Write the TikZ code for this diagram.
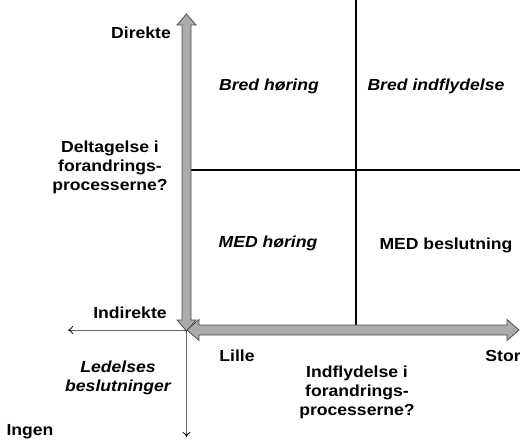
\documentclass[tikz,border=0pt]{standalone}
\usepackage{fontspec}
\setmainfont{Liberation Sans}[FakeStretch=1.1]
\usetikzlibrary{arrows.meta}
\tikzset{
  lbl/.style={font=\fontsize{16}{19}\selectfont\bfseries, align=center, inner sep=0pt},
  ilbl/.style={lbl, font=\fontsize{16}{19}\selectfont\bfseries\itshape},
  blockarrow/.style={draw=black!70, fill=black!33, line width=0.8pt, line join=miter},
  thinarrow/.style={draw=black!60, line width=0.8pt, -{To[length=5pt,width=8pt,color=black]}},
  quadline/.style={draw=black, line width=1.2pt}
}
\begin{document}
\begin{tikzpicture}[x=1pt, y=-1pt]
      \useasboundingbox (0,0) rectangle (520,444);
      %
      \coordinate (origo) at (186.5,330);
      \coordinate (venstre) at (68,330);
      \coordinate (ned) at (186.5,437);
      \draw[thinarrow] (origo) -- (venstre); % thin axes
      \draw[thinarrow] (origo) -- (ned);
      %
      \draw[quadline] (356,0) -- (356,330);   % quadrants
      \draw[quadline] (191,170) -- (520,170);
      %
      \draw[blockarrow] (186.5,14) -- (196,25) -- (191,25) -- (191,320) -- (196,320)
        -- (186.5,331) -- (177,320) -- (182,320) -- (182,25) -- (177,25) -- cycle; % vertical
      \draw[blockarrow] (187,330) -- (199,319.5) -- (199,325) -- (507,325) -- (507,319.5)
        -- (519,330) -- (507,340.5) -- (507,335) -- (199,335) -- (199,340.5) -- cycle; % horizontal
      %
      \node[lbl] (direkte) at (141,33) {Direkte};
      \node[lbl] (deltagelse) at (110,167) {Deltagelse i\\forandrings-\\processerne?};
      \node[lbl] (indirekte) at (130,313) {Indirekte};
      %
      \node[ilbl] (bredh) at (269,86) {Bred høring};          % top row
      \node[ilbl] (bredi) at (436,86) {Bred indflydelse};
      %
      \node[ilbl] (medh) at (268,243) {MED høring};           % bottom row
      \node[lbl] (medb) at (446,245) {MED beslutning};
      %
      \node[lbl] (lille) at (237,356) {Lille};
      \node[lbl] (indflydelse) at (357,392) {Indflydelse i\\forandrings-\\processerne?};
      \node[lbl] (stor) at (503,356) {Stor};
      %
      \node[ilbl] (ledelse) at (118,378) {Ledelses\\beslutninger};
      \node[lbl] (ingen) at (30,432) {Ingen};
    \end{tikzpicture}
\end{document}
